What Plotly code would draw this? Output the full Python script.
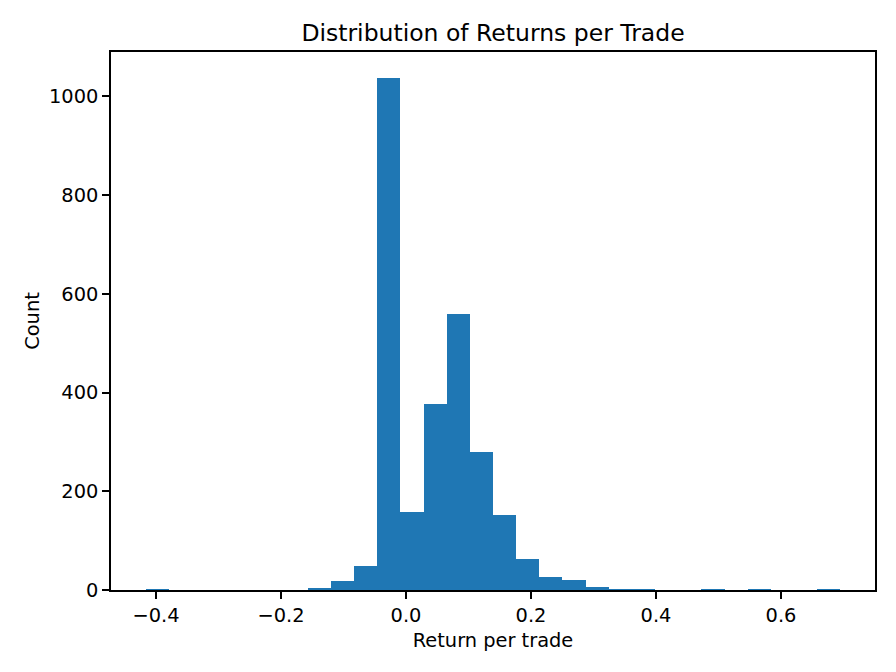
import plotly.graph_objects as go

# Histogram data (30 equal-width bins)
bin_start = -0.4164
bin_width = 0.03704
counts = [1, 0, 0, 0, 0, 0, 0, 3, 19, 49,
          1038, 159, 377, 560, 280, 152, 63, 26, 20, 6,
          1, 1, 0, 0, 1, 0, 1, 0, 0, 1]
x_tick_vals = [-0.4, -0.2, 0.0, 0.2, 0.4, 0.6]
x_tick_text = ["\u22120.4", "\u22120.2", "0.0", "0.2", "0.4", "0.6"]
y_tick_vals = [0, 200, 400, 600, 800, 1000]

centers = [bin_start + bin_width * (i + 0.5) for i in range(len(counts))]
data_min = bin_start
data_max = bin_start + bin_width * len(counts)
pad = 0.05 * (data_max - data_min)

FONT = "DejaVu Sans"

fig = go.Figure(go.Bar(
    x=centers, y=counts, width=bin_width,
    marker=dict(color="#1f77b4", line=dict(width=0)),
))

fig.update_layout(
    width=896, height=672,
    margin=dict(l=111, r=21, t=52, b=82),
    paper_bgcolor="white", plot_bgcolor="white",
    font=dict(family=FONT, size=19.4, color="black"),
    showlegend=False,
    bargap=0,
    title=dict(text="Distribution of Returns per Trade", x=0.5, xanchor="center",
               xref="paper", y=1 - 33 / 672, yref="container", yanchor="middle",
               font=dict(family=FONT, size=23.5, color="black")),
)

axis_common = dict(
    showline=True, linecolor="black", linewidth=1.5, mirror=True,
    ticks="outside", ticklen=7, tickwidth=1.5, tickcolor="black",
    showgrid=False, zeroline=False, automargin=False,
    tickfont=dict(family=FONT, size=19.4, color="black"),
)

fig.update_xaxes(
    range=[data_min - pad, data_max + pad],
    tickvals=x_tick_vals, ticktext=x_tick_text,
    title=dict(text="Return per trade", font=dict(family=FONT, size=19.4), standoff=7),
    **axis_common,
)
fig.update_yaxes(
    range=[0, max(counts) * 1.05],
    tickvals=y_tick_vals,
    title=dict(text="Count", font=dict(family=FONT, size=19.4), standoff=4),
    **axis_common,
)

fig.write_html(
    "out.html",
    config={"displayModeBar": False},
    post_script="document.body.style.margin='0';document.body.style.padding='0';",
)
